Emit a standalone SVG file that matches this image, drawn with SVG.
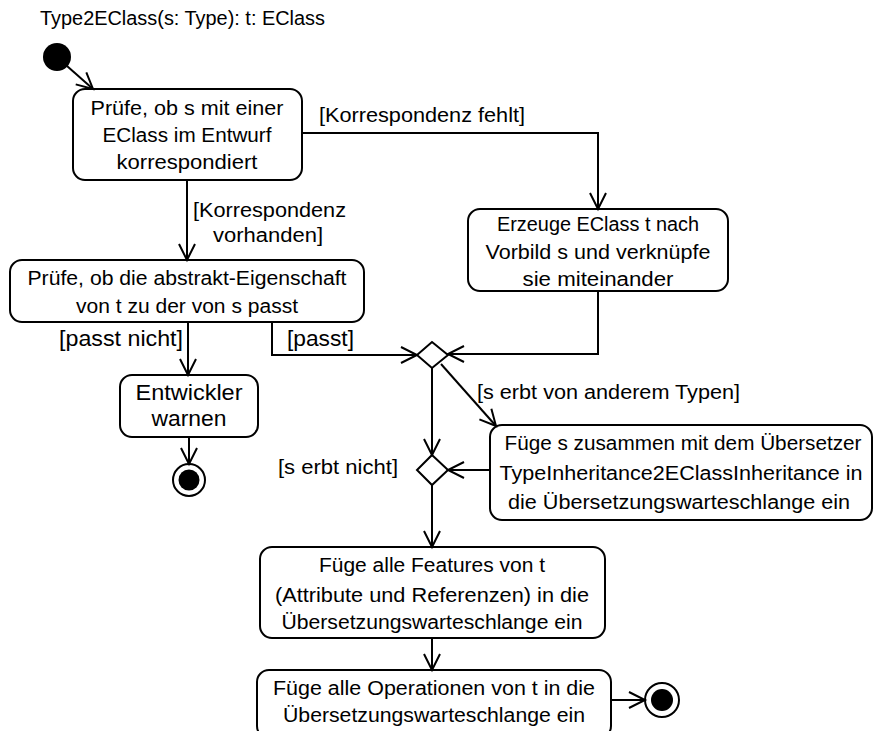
<svg xmlns="http://www.w3.org/2000/svg" width="874" height="731" viewBox="0 0 874 731">
  <style>
    .box { fill: #fff; stroke: #000; stroke-width: 2; }
    .edge { fill: none; stroke: #000; stroke-width: 2; }
    .t { font-family: "Liberation Sans", Arial, sans-serif; font-size: 20px; fill: #000; text-anchor: middle; dominant-baseline: central; }
    .a { font-family: "Liberation Sans", Arial, sans-serif; font-size: 22px; fill: #000; text-anchor: middle; dominant-baseline: central; }
    .l { text-anchor: start; }
  </style>
  <defs>
    <marker id="open" markerUnits="userSpaceOnUse" markerWidth="20" markerHeight="20" viewBox="0 0 20 20" refX="17" refY="10" orient="auto">
      <path d="M1,2 L17,10 L1,18" fill="none" stroke="#000" stroke-width="2"/>
    </marker>
  </defs>

  <text class="t l" x="40" y="18" textLength="285" lengthAdjust="spacingAndGlyphs">Type2EClass(s: Type): t: EClass</text>

  <g id="start">
    <circle cx="57" cy="57" r="14" fill="#000"/>
  </g>

  <g id="check-correspondence">
    <rect class="box" x="73" y="89" width="229" height="91" rx="12"/>
    <text class="t" x="187" y="108" textLength="193" lengthAdjust="spacingAndGlyphs">Prüfe, ob s mit einer</text>
    <text class="t" x="187" y="135" textLength="169" lengthAdjust="spacingAndGlyphs">EClass im Entwurf</text>
    <text class="t" x="187" y="162" textLength="141" lengthAdjust="spacingAndGlyphs">korrespondiert</text>
  </g>

  <g id="create-eclass">
    <rect class="box" x="468" y="209" width="260" height="82" rx="12"/>
    <text class="t" x="598" y="224" textLength="202" lengthAdjust="spacingAndGlyphs">Erzeuge EClass t nach</text>
    <text class="t" x="598" y="252" textLength="225" lengthAdjust="spacingAndGlyphs">Vorbild s und verknüpfe</text>
    <text class="t" x="598" y="279" textLength="151" lengthAdjust="spacingAndGlyphs">sie miteinander</text>
  </g>

  <g id="check-abstract">
    <rect class="box" x="10" y="260" width="354" height="62" rx="12"/>
    <text class="t" x="187" y="278" textLength="319" lengthAdjust="spacingAndGlyphs">Prüfe, ob die abstrakt-Eigenschaft</text>
    <text class="t" x="187" y="306" textLength="222" lengthAdjust="spacingAndGlyphs">von t zu der von s passt</text>
  </g>

  <g id="warn">
    <rect class="box" x="120" y="375" width="138" height="62" rx="12"/>
    <text class="a" x="189" y="392" textLength="107" lengthAdjust="spacingAndGlyphs">Entwickler</text>
    <text class="a" x="189" y="418" textLength="75" lengthAdjust="spacingAndGlyphs">warnen</text>
  </g>

  <g id="end-warn">
    <circle cx="189" cy="480" r="16" fill="#fff" stroke="#000" stroke-width="2"/>
    <circle cx="189" cy="480" r="10.5" fill="#000"/>
  </g>

  <g id="merge">
    <polygon class="box" points="432,342 448,355 432,368 417,355"/>
  </g>

  <g id="inheritance-check">
    <polygon class="box" points="432,455 448,470 432,485 417,470"/>
  </g>

  <g id="queue-inheritance">
    <rect class="box" x="490" y="425" width="382" height="95" rx="12"/>
    <text class="t" x="683" y="443" textLength="357" lengthAdjust="spacingAndGlyphs">Füge s zusammen mit dem Übersetzer</text>
    <text class="t" x="681" y="473" textLength="363" lengthAdjust="spacingAndGlyphs">TypeInheritance2EClassInheritance in</text>
    <text class="t" x="679" y="502" textLength="342" lengthAdjust="spacingAndGlyphs">die Übersetzungswarteschlange ein</text>
  </g>

  <g id="queue-features">
    <rect class="box" x="260" y="547" width="345" height="91" rx="12"/>
    <text class="t" x="432" y="565" textLength="226" lengthAdjust="spacingAndGlyphs">Füge alle Features von t</text>
    <text class="t" x="432" y="595" textLength="314" lengthAdjust="spacingAndGlyphs">(Attribute und Referenzen) in die</text>
    <text class="t" x="432" y="622" textLength="301" lengthAdjust="spacingAndGlyphs">Übersetzungswarteschlange ein</text>
  </g>

  <g id="queue-operations">
    <rect class="box" x="257" y="670" width="354" height="68" rx="12"/>
    <text class="t" x="434" y="688" textLength="322" lengthAdjust="spacingAndGlyphs">Füge alle Operationen von t in die</text>
    <text class="t" x="434" y="715" textLength="302" lengthAdjust="spacingAndGlyphs">Übersetzungswarteschlange ein</text>
  </g>

  <g id="end-main">
    <circle cx="662" cy="700" r="17" fill="#fff" stroke="#000" stroke-width="2"/>
    <circle cx="662" cy="700" r="11" fill="#000"/>
  </g>

  <g id="connectors">
    <path class="edge" d="M67,66 L93,89" marker-end="url(#open)"/>
    <path class="edge" d="M302,133 L598,133 L598,209" marker-end="url(#open)"/>
    <path class="edge" d="M187,180 L187,260" marker-end="url(#open)"/>
    <path class="edge" d="M188,322 L188,375" marker-end="url(#open)"/>
    <path class="edge" d="M272,322 L272,355 L417,355" marker-end="url(#open)"/>
    <path class="edge" d="M598,291 L598,354 L448,354" marker-end="url(#open)"/>
    <path class="edge" d="M189,437 L189,464" marker-end="url(#open)"/>
    <path class="edge" d="M432,368 L432,455" marker-end="url(#open)"/>
    <path class="edge" d="M441,364 L496,426" marker-end="url(#open)"/>
    <path class="edge" d="M490,470 L448,470" marker-end="url(#open)"/>
    <path class="edge" d="M432,485 L432,547" marker-end="url(#open)"/>
    <path class="edge" d="M432,638 L432,670" marker-end="url(#open)"/>
    <path class="edge" d="M611,700 L645,700" marker-end="url(#open)"/>
  </g>

  <g id="guards">
    <text class="t l" x="319" y="115" textLength="206" lengthAdjust="spacingAndGlyphs">[Korrespondenz fehlt]</text>
    <text class="t l" x="193" y="210" textLength="153" lengthAdjust="spacingAndGlyphs">[Korrespondenz</text>
    <text class="t l" x="213" y="235" textLength="110" lengthAdjust="spacingAndGlyphs">vorhanden]</text>
    <text class="a l" x="59" y="338" textLength="124" lengthAdjust="spacingAndGlyphs">[passt nicht]</text>
    <text class="a l" x="287" y="338" textLength="67" lengthAdjust="spacingAndGlyphs">[passt]</text>
    <text class="t l" x="477" y="392" textLength="263" lengthAdjust="spacingAndGlyphs">[s erbt von anderem Typen]</text>
    <text class="t l" x="278" y="467" textLength="120" lengthAdjust="spacingAndGlyphs">[s erbt nicht]</text>
  </g>
</svg>
